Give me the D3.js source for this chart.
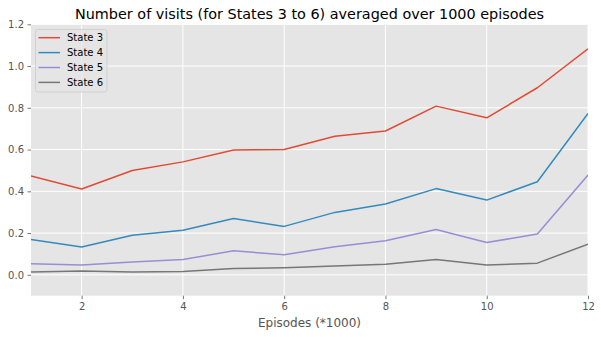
<!DOCTYPE html>
<html>
<head>
<meta charset="utf-8">
<script src="https://cdn.jsdelivr.net/npm/d3@7"></script>
<style>
  html, body { margin: 0; padding: 0; background: #ffffff; }
  svg { display: block; font-family: "DejaVu Sans", sans-serif; }
</style>
</head>
<body>
<svg id="chart" width="601" height="337"></svg>
<script>
// Episodes (in thousands)
const episodes = [1, 2, 3, 4, 5, 6, 7, 8, 9, 10, 11, 12];

// Average number of visits per state
const state3 = [0.474, 0.411, 0.500, 0.541, 0.598, 0.600, 0.664, 0.689, 0.808, 0.752, 0.896, 1.083];
const state4 = [0.169, 0.133, 0.190, 0.214, 0.270, 0.232, 0.299, 0.339, 0.413, 0.358, 0.446, 0.773];
const state5 = [0.053, 0.047, 0.062, 0.073, 0.115, 0.096, 0.134, 0.163, 0.217, 0.155, 0.195, 0.478];
const state6 = [0.013, 0.018, 0.013, 0.016, 0.030, 0.034, 0.042, 0.051, 0.073, 0.047, 0.056, 0.147];

const seriesNames = ["State 3", "State 4", "State 5", "State 6"];
const seriesColors = ["#E24A33", "#348ABD", "#988ED5", "#777777"];

const xTicks = [2, 4, 6, 8, 10, 12];
const yTicks = [0.0, 0.2, 0.4, 0.6, 0.8, 1.0, 1.2];

const series = [state3, state4, state5, state6].map((vals, i) => ({
  name: seriesNames[i],
  color: seriesColors[i],
  values: vals.map((v, j) => ({ x: episodes[j], y: v }))
}));

const svg = d3.select("#chart");
const plot = { left: 31, right: 588, top: 24.3, bottom: 295.7 };

const x = d3.scaleLinear().domain([1, 12]).range([plot.left, plot.right]);
const y = d3.scaleLinear().domain([-0.1, 1.2]).range([plot.bottom, plot.top]);

// Axes background
svg.append("rect")
  .attr("x", plot.left).attr("y", plot.top)
  .attr("width", plot.right - plot.left)
  .attr("height", plot.bottom - plot.top)
  .attr("fill", "#E5E5E5");

// Grid lines
const grid = svg.append("g").attr("stroke", "#ffffff").attr("stroke-width", 1);
grid.selectAll(".gx").data(xTicks).join("line")
  .attr("x1", d => x(d)).attr("x2", d => x(d))
  .attr("y1", plot.top).attr("y2", plot.bottom);
grid.selectAll(".gy").data(yTicks).join("line")
  .attr("x1", plot.left).attr("x2", plot.right)
  .attr("y1", d => y(d)).attr("y2", d => y(d));

// Axes
const xAxis = d3.axisBottom(x).tickValues(xTicks).tickSize(3.5).tickPadding(3.5)
  .tickFormat(d3.format("d"));
const yAxis = d3.axisLeft(y).tickValues(yTicks).tickSize(3.5).tickPadding(3.5)
  .tickFormat(d3.format(".1f"));

const gx = svg.append("g").attr("transform", `translate(0,${plot.bottom})`).call(xAxis);
const gy = svg.append("g").attr("transform", `translate(${plot.left},0)`).call(yAxis);
[gx, gy].forEach(g => {
  g.select(".domain").remove();
  g.selectAll(".tick line").attr("stroke", "#555555").attr("stroke-width", 0.8);
  g.selectAll(".tick text")
    .attr("fill", "#555555")
    .style("font-family", "DejaVu Sans, sans-serif")
    .style("font-size", "10px");
});

// Lines
const line = d3.line().x(d => x(d.x)).y(d => y(d.y));
const clip = svg.append("clipPath").attr("id", "clip")
  .append("rect")
  .attr("x", plot.left).attr("y", plot.top)
  .attr("width", plot.right - plot.left)
  .attr("height", plot.bottom - plot.top);
svg.append("g").attr("clip-path", "url(#clip)")
  .selectAll("path").data(series).join("path")
  .attr("d", d => line(d.values))
  .attr("fill", "none")
  .attr("stroke", d => d.color)
  .attr("stroke-width", 1.5)
  .attr("stroke-linejoin", "round")
  .attr("stroke-linecap", "butt");

// Title
svg.append("text")
  .attr("x", (plot.left + plot.right) / 2)
  .attr("y", 19)
  .attr("text-anchor", "middle")
  .attr("fill", "#000000")
  .style("font-size", "14.4px")
  .text("Number of visits (for States 3 to 6) averaged over 1000 episodes");

// X axis label
svg.append("text")
  .attr("x", (plot.left + plot.right) / 2)
  .attr("y", 327)
  .attr("text-anchor", "middle")
  .attr("fill", "#555555")
  .style("font-size", "12px")
  .text("Episodes (*1000)");

// Legend
const legend = svg.append("g");
legend.append("rect")
  .attr("x", 35.5).attr("y", 29.5)
  .attr("width", 71.5).attr("height", 62.5)
  .attr("rx", 2.5).attr("ry", 2.5)
  .attr("fill", "#E5E5E5").attr("fill-opacity", 0.8)
  .attr("stroke", "#CCCCCC").attr("stroke-opacity", 0.8)
  .attr("stroke-width", 1);
const items = legend.selectAll(".item").data(series).join("g")
  .attr("transform", (d, i) => `translate(0,${37.7 + i * 14.9})`);
items.append("line")
  .attr("x1", 38.5).attr("x2", 60)
  .attr("y1", 0).attr("y2", 0)
  .attr("stroke", d => d.color)
  .attr("stroke-width", 1.5);
items.append("text")
  .attr("x", 67).attr("y", 3.6)
  .attr("fill", "#000000")
  .style("font-size", "10px")
  .text(d => d.name);
</script>
</body>
</html>
